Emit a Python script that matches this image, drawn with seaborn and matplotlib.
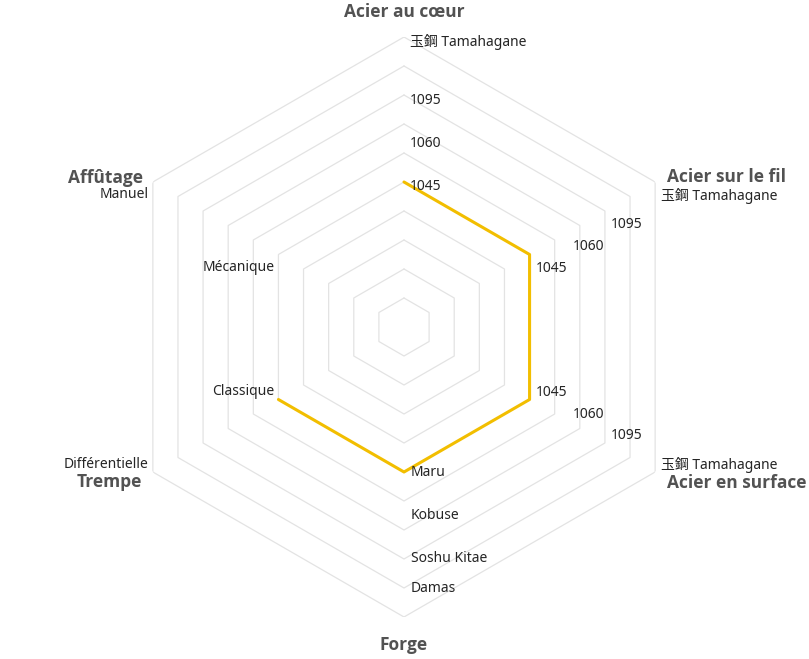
import numpy as np
import pandas as pd
import matplotlib
matplotlib.use("Agg")
import matplotlib.pyplot as plt
import seaborn as sns

# Axes of the radar, clockwise from the top
axes_names = ["Acier au cœur", "Acier sur le fil", "Acier en surface",
              "Forge", "Trempe", "Affûtage"]

# Category labels on each axis and their level (0-100)
axis_ticks = {
    "Acier au cœur": [("1045", 50), ("1060", 65), ("1095", 80), ("玉鋼 Tamahagane", 100)],
    "Acier sur le fil": [("1045", 50), ("1060", 65), ("1095", 80), ("玉鋼 Tamahagane", 100)],
    "Acier en surface": [("1045", 50), ("1060", 65), ("1095", 80), ("玉鋼 Tamahagane", 100)],
    "Forge": [("Maru", 50), ("Kobuse", 65), ("Soshu Kitae", 80), ("Damas", 90)],
    "Trempe": [("Classique", 50), ("Différentielle", 100)],
    "Affûtage": [("Mécanique", 50), ("Manuel", 100)],
}

# The plotted series (no value for Affûtage)
series_values = [50, 50, 50, 50, 50, np.nan]

ring_levels = [10, 20, 30, 40, 50, 60, 70, 80, 90, 100]

sns.set_theme(style="white")
plt.rcParams["font.family"] = ["Noto Sans", "Noto Sans CJK JP", "DejaVu Sans"]
title_font = ["Open Sans", "DejaVu Sans"]

fig = plt.figure(figsize=(8.09, 6.59), dpi=100)
cx, cy = 404 / 809, (659 - 327) / 659
w, h = 580 / 809, 580 / 659
ax = fig.add_axes([cx - w / 2, cy - h / 2, w, h], projection="polar")
ax.set_theta_zero_location("N")
ax.set_theta_direction(-1)
ax.set_ylim(0, 100)
ax.grid(False)
ax.set_xticks([])
ax.set_yticks([])
ax.spines["polar"].set_visible(False)
ax.set_facecolor("white")

angles = np.deg2rad(np.arange(len(axes_names)) * 60)
closed = np.append(angles, angles[0])

# hexagonal grid rings
for lvl in ring_levels:
    ax.plot(closed, [lvl] * len(closed), color="#e3e3e3", lw=0.9, zorder=1)

# series: the missing Affûtage value breaks the outline
df = pd.DataFrame({"axis": axes_names + axes_names[:1], "theta": closed,
                   "value": series_values + series_values[:1]})
df = df.dropna()
sns.lineplot(data=df, x="theta", y="value", sort=False, ax=ax,
             color="#F2BE00", lw=2.2, zorder=3)
ax.set_xlabel("")
ax.set_ylabel("")

# per-axis tick labels: (ha, dx, dy) in pixels
tick_style = {
    "Acier au cœur": ("left", 6, -5),
    "Acier sur le fil": ("left", 6, -14),
    "Acier en surface": ("left", 6, 7),
    "Forge": ("left", 7, 0),
    "Trempe": ("right", -4, 8),
    "Affûtage": ("right", -4, -13),
}
for name, ang in zip(axes_names, angles):
    ha, dx, dy = tick_style[name]
    for lab, lvl in axis_ticks[name]:
        ax.annotate(lab, xy=(ang, lvl), xytext=(dx, dy), textcoords="offset pixels",
                    ha=ha, va="center", fontsize=10, color="#252525", zorder=4)

# axis titles
title_style = {
    "Acier au cœur": ("center", 0, 25),
    "Acier sur le fil": ("left", 12, 5),
    "Acier en surface": ("left", 12, -11),
    "Forge": ("center", 0, -28),
    "Trempe": ("right", -11, -10),
    "Affûtage": ("right", -10, 4),
}
for name, ang in zip(axes_names, angles):
    ha, dx, dy = title_style[name]
    ax.annotate(name, xy=(ang, 100), xytext=(dx, dy), textcoords="offset pixels",
                ha=ha, va="center", fontsize=12.5, fontweight="bold", family=title_font,
                color="#525252", annotation_clip=False)

fig.savefig("out.png", dpi=100, facecolor="white")
